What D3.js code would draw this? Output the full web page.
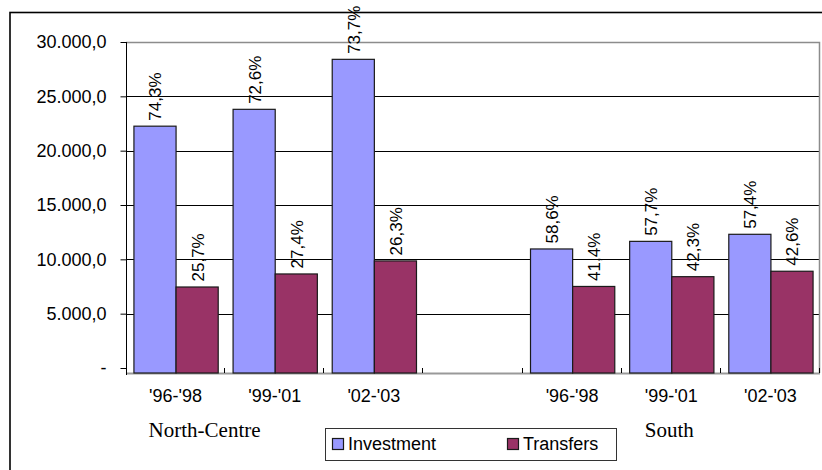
<!DOCTYPE html>
<html>
<head>
<meta charset="utf-8">
<script src="https://cdn.jsdelivr.net/npm/d3@7"></script>
<style>
  html, body { margin: 0; padding: 0; background: #fff; }
  svg { display: block; }
  text { font-family: "Liberation Sans", Arial, sans-serif; fill: #000; }
</style>
</head>
<body>
<svg id="chart" width="822" height="470"></svg>
<script>
// Regions and periods on the category axis
const regions = ["North-Centre", "South"];
const periods = ["'96-'98", "'99-'01", "'02-'03"];

// Values per region/period, North-Centre first, then South
const investment = [22300, 23850, 28450, 11000, 11700, 12350];
const transfers  = [7500, 8700, 9900, 7550, 8450, 8950];

// Share of each component in the period total
const investmentShare = ["74,3%", "72,6%", "73,7%", "58,6%", "57,7%", "57,4%"];
const transfersShare  = ["25,7%", "27,4%", "26,3%", "41,4%", "42,3%", "42,6%"];

const yTicks = [0, 5000, 10000, 15000, 20000, 25000, 30000];

const seriesNames = ["Investment", "Transfers"];
const seriesColors = ["#9999ff", "#993366"];

// ---- layout ----
const svg = d3.select("#chart");
const plot = { left: 126, right: 819, top: 42, bottom: 368 };
const floorY = plot.bottom + 5;

// Seven slots: three per region with an empty slot between them
const slots = [];
regions.forEach((r, ri) => {
  if (ri > 0) slots.push({ key: "gap", label: "" });
  periods.forEach((p, pi) => slots.push({ key: r + "|" + p, label: p, idx: ri * periods.length + pi }));
});

const x = d3.scaleBand()
  .domain(slots.map(s => s.key))
  .range([plot.left, plot.right + 1])
  .paddingInner(0).paddingOuter(0);

const pairWidth = x.bandwidth() * 0.85;
const xInner = d3.scaleBand()
  .domain(seriesNames)
  .range([(x.bandwidth() - pairWidth) / 2, (x.bandwidth() + pairWidth) / 2]);

const y = d3.scaleLinear().domain([0, 30000]).range([plot.bottom, plot.top]);

const locale = d3.formatLocale({ decimal: ",", thousands: ".", grouping: [3], currency: ["", ""] });
const fmt = locale.format(",.1f");
const tickLabel = v => v === 0 ? "-" : fmt(v);

// Outer chart frame
svg.append("rect")
  .attr("x", 10).attr("y", 12.5)
  .attr("width", 830).attr("height", 480)
  .attr("fill", "none").attr("stroke", "#000").attr("stroke-width", 1.6);

// Horizontal gridlines
svg.append("g")
  .selectAll("line")
  .data(yTicks.filter(v => v > 0 && v < 30000))
  .join("line")
  .attr("x1", plot.left).attr("x2", plot.right)
  .attr("y1", d => Math.round(y(d)) + 0.5).attr("y2", d => Math.round(y(d)) + 0.5)
  .attr("stroke", "#000").attr("stroke-width", 1);

// Plot area border (top, right) and floor
svg.append("path")
  .attr("d", `M${plot.left},${plot.top + 0.5}H${plot.right + 0.5}V${floorY}`)
  .attr("fill", "none").attr("stroke", "#8c8c8c").attr("stroke-width", 1.5);
svg.append("line")
  .attr("x1", plot.left).attr("x2", plot.right + 1)
  .attr("y1", floorY + 0.5).attr("y2", floorY + 0.5)
  .attr("stroke", "#999").attr("stroke-width", 2);

// Y axis
const yAxis = d3.axisLeft(y)
  .tickValues(yTicks)
  .tickFormat(tickLabel)
  .tickSize(6)
  .tickPadding(14);
const gy = svg.append("g")
  .attr("transform", `translate(${plot.left + 0.5},0)`)
  .call(yAxis);
gy.select(".domain").attr("d", `M-0,${plot.top}V${floorY + 2}`).attr("stroke", "#000");
gy.selectAll(".tick line").attr("stroke", "#000");
gy.selectAll(".tick text")
  .attr("font-size", 18)
  .attr("font-family", "Liberation Sans, Arial, sans-serif")
  .attr("fill", "#000");

// Category tick marks at slot boundaries
const boundaries = slots.slice(1).map(s => x(s.key)).concat([plot.right + 1]);
svg.append("g")
  .selectAll("line")
  .data(boundaries)
  .join("line")
  .attr("x1", d => Math.round(d) - 0.5).attr("x2", d => Math.round(d) - 0.5)
  .attr("y1", plot.bottom).attr("y2", floorY)
  .attr("stroke", "#000").attr("stroke-width", 1);

// Bars
const dataSlots = slots.filter(s => s.key !== "gap");
const barData = [];
dataSlots.forEach(s => {
  barData.push({ slot: s, series: "Investment", value: investment[s.idx], share: investmentShare[s.idx], color: seriesColors[0] });
  barData.push({ slot: s, series: "Transfers", value: transfers[s.idx], share: transfersShare[s.idx], color: seriesColors[1] });
});

svg.append("g")
  .selectAll("rect")
  .data(barData)
  .join("rect")
  .attr("x", d => x(d.slot.key) + xInner(d.series) + 0.5)
  .attr("y", d => y(d.value) + 0.5)
  .attr("width", xInner.bandwidth())
  .attr("height", d => floorY - y(d.value) - 0.5)
  .attr("fill", d => d.color)
  .attr("stroke", "#1a1a1a")
  .attr("stroke-width", 1.2);

// Percentage labels above bars, rotated
svg.append("g")
  .selectAll("text")
  .data(barData)
  .join("text")
  .attr("transform", d => {
    const cx = x(d.slot.key) + xInner(d.series) + xInner.bandwidth() / 2 + 1;
    const cy = y(d.value) - 5;
    return `translate(${cx},${cy}) rotate(-90)`;
  })
  .attr("text-anchor", "start")
  .attr("dy", "0.35em")
  .attr("font-size", 17)
  .text(d => d.share);

// Period labels under each slot
svg.append("g")
  .selectAll("text")
  .data(dataSlots)
  .join("text")
  .attr("x", d => x(d.key) + x.bandwidth() / 2)
  .attr("y", 402)
  .attr("text-anchor", "middle")
  .attr("font-size", 18)
  .text(d => d.label);

// Region labels
const firstNC = x(regions[0] + "|" + periods[0]) + x.bandwidth() / 2;
const midS = x(regions[1] + "|" + periods[1]) + x.bandwidth() / 2;
svg.append("text")
  .attr("x", firstNC - 27).attr("y", 437)
  .attr("text-anchor", "start")
  .attr("font-family", "Liberation Serif, Times New Roman, serif")
  .attr("font-size", 21)
  .style("font-family", "'Liberation Serif', 'Times New Roman', serif")
  .text(regions[0]);
svg.append("text")
  .attr("x", midS - 2).attr("y", 437)
  .attr("text-anchor", "middle")
  .attr("font-size", 21)
  .style("font-family", "'Liberation Serif', 'Times New Roman', serif")
  .text(regions[1]);

// Legend
const legend = svg.append("g");
legend.append("rect")
  .attr("x", 325.5).attr("y", 428.5)
  .attr("width", 291).attr("height", 32)
  .attr("fill", "#fff").attr("stroke", "#333").attr("stroke-width", 1);
const legendX = [332, 507];
seriesNames.forEach((name, i) => {
  legend.append("rect")
    .attr("x", legendX[i] + 0.5).attr("y", 438.5)
    .attr("width", 11).attr("height", 11)
    .attr("fill", seriesColors[i]).attr("stroke", "#1a1a1a").attr("stroke-width", 1.2);
  legend.append("text")
    .attr("x", legendX[i] + 16).attr("y", 450)
    .attr("font-size", 18)
    .text(name);
});
</script>
</body>
</html>
